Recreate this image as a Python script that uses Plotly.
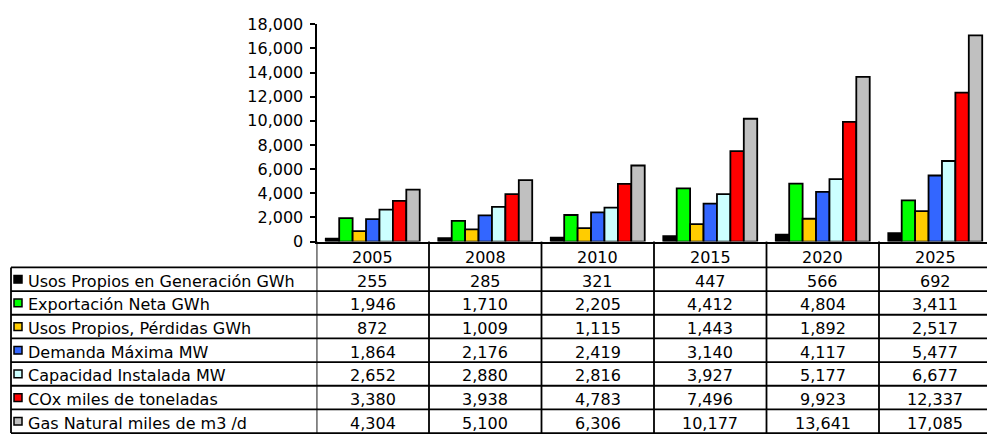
import plotly.graph_objects as go

# ---- data -------------------------------------------------------------
years = ["2005", "2008", "2010", "2015", "2020", "2025"]

series_names = [
    "Usos Propios en Generación GWh",
    "Exportación Neta GWh",
    "Usos Propios, Pérdidas GWh",
    "Demanda Máxima MW",
    "Capacidad Instalada MW",
    "COx miles de toneladas",
    "Gas Natural miles de m3 /d",
]

usos_generacion = [255, 285, 321, 447, 566, 692]
exportacion_neta = [1946, 1710, 2205, 4412, 4804, 3411]
usos_perdidas = [872, 1009, 1115, 1443, 1892, 2517]
demanda_maxima = [1864, 2176, 2419, 3140, 4117, 5477]
capacidad_instalada = [2652, 2880, 2816, 3927, 5177, 6677]
cox_toneladas = [3380, 3938, 4783, 7496, 9923, 12337]
gas_natural = [4304, 5100, 6306, 10177, 13641, 17085]

series_values = [usos_generacion, exportacion_neta, usos_perdidas,
                 demanda_maxima, capacidad_instalada, cox_toneladas, gas_natural]

colors = ["#000000", "#00FF00", "#FFCC00", "#3366FF", "#CCFFFF", "#FF0000", "#C0C0C0"]

y_ticks = list(range(0, 18001, 2000))

# ---- geometry (pixels of a 987 x 444 page) ---------------------------
W, H = 987, 444
FONT = "DejaVu Sans, Verdana, sans-serif"
FS = 16

axis_x = 316.5          # left edge of plot / y-axis line
col_w = 112.5           # width of one category column
y_top, y_zero = 16.0, 243.0
header_bottom = 270.0
row_h = (443.0 - header_bottom) / 7
table_left = 11.0
text_shift = 2.0        # nudge cell text towards the optical centre of a row


def py(pix):
    """pixel row -> paper fraction"""
    return (H - pix) / H


def px(pix):
    """pixel column -> paper fraction"""
    return pix / W


x_max = -0.5 + (W - axis_x) / col_w

fig = go.Figure()
x_idx = list(range(len(years)))
for name, vals, col in zip(series_names, series_values, colors):
    fig.add_trace(go.Bar(
        x=x_idx, y=vals, name=name,
        marker=dict(color=col, line=dict(color="#000000", width=1.8)),
        showlegend=False,
    ))

shapes = []
annotations = []
line_style = dict(color="#000000", width=1.8)

# vertical column separators of the table, below the plot
for k in range(len(years) + 1):
    shapes.append(dict(type="line", xref="x", yref="paper",
                       x0=k - 0.5, x1=k - 0.5, y0=py(443), y1=py(y_zero),
                       line=line_style))

# left border of the label column
shapes.append(dict(type="line", xref="paper", yref="paper",
                   x0=px(table_left), x1=px(table_left),
                   y0=py(443), y1=py(header_bottom), line=line_style))

# horizontal row lines
for k in range(8):
    yy = header_bottom + k * row_h
    shapes.append(dict(type="line", xref="paper", yref="paper",
                       x0=px(table_left), x1=1, y0=py(yy), y1=py(yy),
                       line=line_style))

# header row: years
for i, yr in enumerate(years):
    annotations.append(dict(xref="x", yref="paper", x=i,
                            y=py((y_zero + header_bottom) / 2 + text_shift + 1),
                            text=yr, showarrow=False,
                            xanchor="center", yanchor="middle",
                            font=dict(family=FONT, size=FS, color="#000000")))

# data rows: legend key, label and values
for r, (name, vals, col) in enumerate(zip(series_names, series_values, colors)):
    yc = header_bottom + (r + 0.5) * row_h
    shapes.append(dict(type="rect", xref="paper", yref="paper",
                       x0=px(14), x1=px(22), y0=py(yc + 4), y1=py(yc - 4),
                       fillcolor=col, line=dict(color="#000000", width=1.5)))
    annotations.append(dict(xref="paper", yref="paper", x=px(26),
                            y=py(yc + text_shift),
                            text=name, showarrow=False,
                            xanchor="left", yanchor="middle",
                            font=dict(family=FONT, size=FS, color="#000000")))
    for i, v in enumerate(vals):
        annotations.append(dict(xref="x", yref="paper", x=i,
                                y=py(yc + text_shift),
                                text=f"{v:,}", showarrow=False,
                                xanchor="center", yanchor="middle",
                                font=dict(family=FONT, size=FS, color="#000000")))

fig.update_layout(
    width=W, height=H,
    margin=dict(l=0, r=0, t=0, b=0),
    paper_bgcolor="#FFFFFF", plot_bgcolor="#FFFFFF",
    barmode="group", bargap=0.165, bargroupgap=0,
    font=dict(family=FONT, size=FS, color="#000000"),
    shapes=shapes, annotations=annotations,
    xaxis=dict(domain=[px(axis_x), 1], range=[-0.5, x_max],
               showticklabels=False, ticks="", showgrid=False, zeroline=False,
               showline=True, linecolor="#000000", linewidth=2, fixedrange=True),
    yaxis=dict(domain=[py(y_zero), py(y_top)], range=[0, 18000],
               tickvals=y_ticks, tickformat=",", ticks="outside", ticklen=5,
               tickwidth=2, tickcolor="#000000", showgrid=False, zeroline=False,
               showline=True, linecolor="#000000", linewidth=2,
               ticklabelstandoff=3,
               tickfont=dict(family=FONT, size=FS, color="#000000"), fixedrange=True),
)

fig.write_html("out.html")
